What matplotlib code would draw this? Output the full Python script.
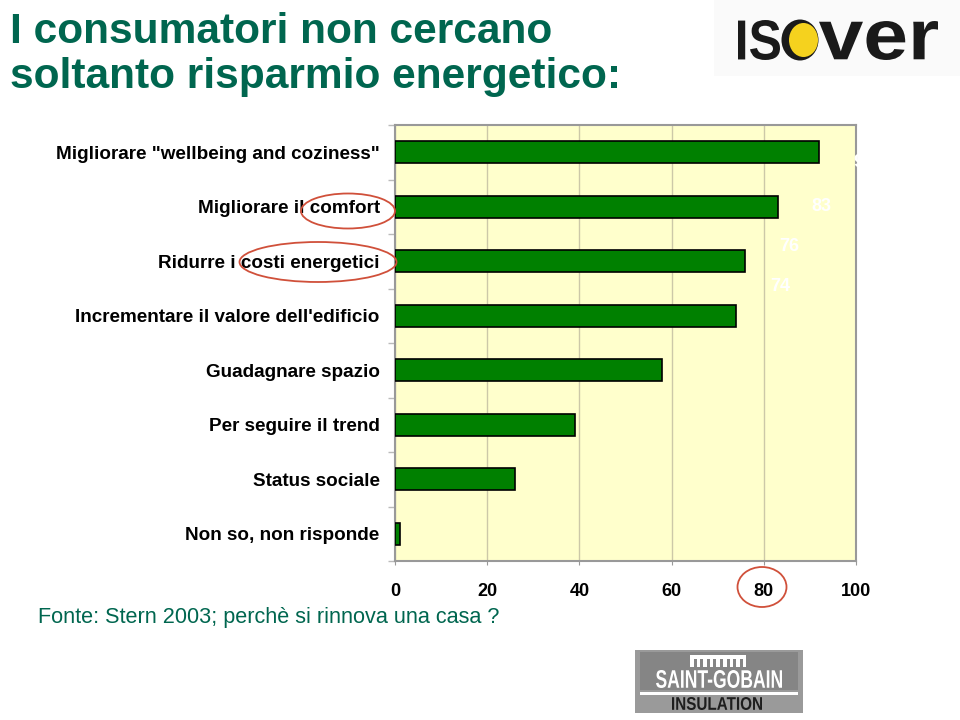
import numpy as np
import matplotlib
matplotlib.use("Agg")
import matplotlib.pyplot as plt
from matplotlib.patches import Ellipse, Rectangle, PathPatch
from matplotlib.textpath import TextPath
from matplotlib.font_manager import FontProperties
from matplotlib.transforms import Affine2D

# ---- data ----
categories = [
    'Migliorare "wellbeing and coziness"',
    'Migliorare il comfort',
    'Ridurre i costi energetici',
    "Incrementare il valore dell'edificio",
    'Guadagnare spazio',
    'Per seguire il trend',
    'Status sociale',
    'Non so, non risponde',
]
values = [92, 83, 76, 74, 58, 39, 26, 1]
labelled_values = [92, 83, 76, 74]
xticks = [0, 20, 40, 60, 80, 100]

title_lines = ["I consumatori non cercano", "soltanto risparmio energetico:"]
source = "Fonte: Stern 2003; perchè si rinnova una casa ?"

plt.rcParams['font.family'] = ['Liberation Sans', 'DejaVu Sans']

W, H = 960, 720
fig = plt.figure(figsize=(9.6, 7.2), dpi=100)
fig.patch.set_facecolor('white')

def fx(px):
    return px / W

def fy(py):
    return 1 - py / H

ax = fig.add_axes([fx(395), fy(561), fx(856) - fx(395), fy(125) - fy(561)])
ax.set_facecolor('#FFFFCC')

n = len(categories)
pos = np.arange(n)
ax.barh(pos, values, height=0.4, color='#008000', edgecolor='black',
        linewidth=1.2, zorder=3)

# faint white value labels (as in the reference)
label_dx = 9.5
label_dy = [0.19, 0.0, -0.27, -0.53]
for i, v in enumerate(labelled_values):
    ax.text(v + label_dx, pos[i] + label_dy[i], str(v), color='white',
            fontsize=13, fontweight='bold', ha='center', va='center',
            clip_on=False, zorder=4)

ax.set_xlim(0, 100)
ax.set_ylim(n - 0.5, -0.5)
ax.set_xticks(xticks)
ax.set_xticklabels([str(t) for t in xticks], fontsize=13, fontweight='bold')
ax.set_yticks(pos)
ax.set_yticklabels(categories, fontsize=13.6, fontweight='bold')
ax.set_yticks(np.arange(-0.5, n, 1), minor=True)
ax.tick_params(axis='y', which='major', length=0, pad=11)
ax.tick_params(axis='y', which='minor', length=5, color='#BBBBBB', width=1)
ax.tick_params(axis='x', which='major', length=3, color='#999999', pad=13)

ax.grid(axis='x', color='#CCC8A8', linewidth=1, zorder=0)
ax.set_axisbelow(True)
for s in ax.spines.values():
    s.set_color('#999999')
    s.set_linewidth(1.5)

# title and source
fig.text(fx(10), fy(32), title_lines[0], fontsize=30.6,
         fontweight='bold', color='#00664F', ha='left', va='center')
fig.text(fx(10), fy(77), title_lines[1], fontsize=30.6,
         fontweight='bold', color='#00664F', ha='left', va='center')
fig.text(fx(38), fy(617), source, fontsize=15.6, color='#00664F',
         ha='left', va='center')

# red highlight ellipses
ell_color = '#D0503A'
for cx, cy, ew, eh in [(348, 211, 94, 35), (318, 262, 157, 40), (762, 587, 49, 40)]:
    e = Ellipse((fx(cx), fy(cy)), fx(ew), eh / H, transform=fig.transFigure,
                fill=False, edgecolor=ell_color, linewidth=1.3, zorder=10)
    fig.add_artist(e)

# ---- decorative logos drawn in a pixel-coordinate overlay ----
ov = fig.add_axes([0, 0, 1, 1], zorder=20)
ov.set_xlim(0, W)
ov.set_ylim(H, 0)
ov.axis('off')
ov.patch.set_alpha(0)

bold = FontProperties(family='Liberation Sans', weight='bold')

def fitted_text(s, x0, x1, ytop, ybot, color):
    tp = TextPath((0, 0), s, size=100, prop=bold)
    ext = tp.get_extents()
    sx = (x1 - x0) / ext.width
    sy = (ybot - ytop) / ext.height
    tr = Affine2D().translate(-ext.x0, -ext.y0).scale(sx, -sy).translate(x0, ybot)
    ov.add_patch(PathPatch(tr.transform_path(tp), facecolor=color,
                           edgecolor='none'))

# ISOVER
ov.add_patch(Rectangle((714, 0), 246, 76, facecolor='#FAFAFA', edgecolor='none'))
fitted_text("IS", 738, 780, 20, 60, '#1A1A1A')
fitted_text("ver", 819, 938, 21, 60, '#1A1A1A')
ov.add_patch(Ellipse((800, 40), 37, 41, facecolor='#1A1A1A', edgecolor='none'))
ov.add_patch(Ellipse((803.5, 40), 29, 34, facecolor='#F5D21E', edgecolor='none'))

# SAINT-GOBAIN INSULATION
ov.add_patch(Rectangle((635, 650), 168, 63, facecolor='#9A9A9A', edgecolor='none'))
ov.add_patch(Rectangle((640, 652), 158, 38, facecolor='#858585', edgecolor='none'))
ov.add_patch(Rectangle((640, 692), 158, 2.5, facecolor='white', edgecolor='none'))
fitted_text("SAINT-GOBAIN", 656, 782, 670, 688, 'white')
fitted_text("INSULATION", 672, 762, 697, 710, '#1E1E1E')
ov.add_patch(Rectangle((690, 655), 56, 4, facecolor='white', edgecolor='none'))
for k in range(9):
    ov.add_patch(Rectangle((690 + k * 6.6, 655), 3.5, 12, facecolor='white',
                           edgecolor='none'))

fig.savefig('out.png', dpi=100)
